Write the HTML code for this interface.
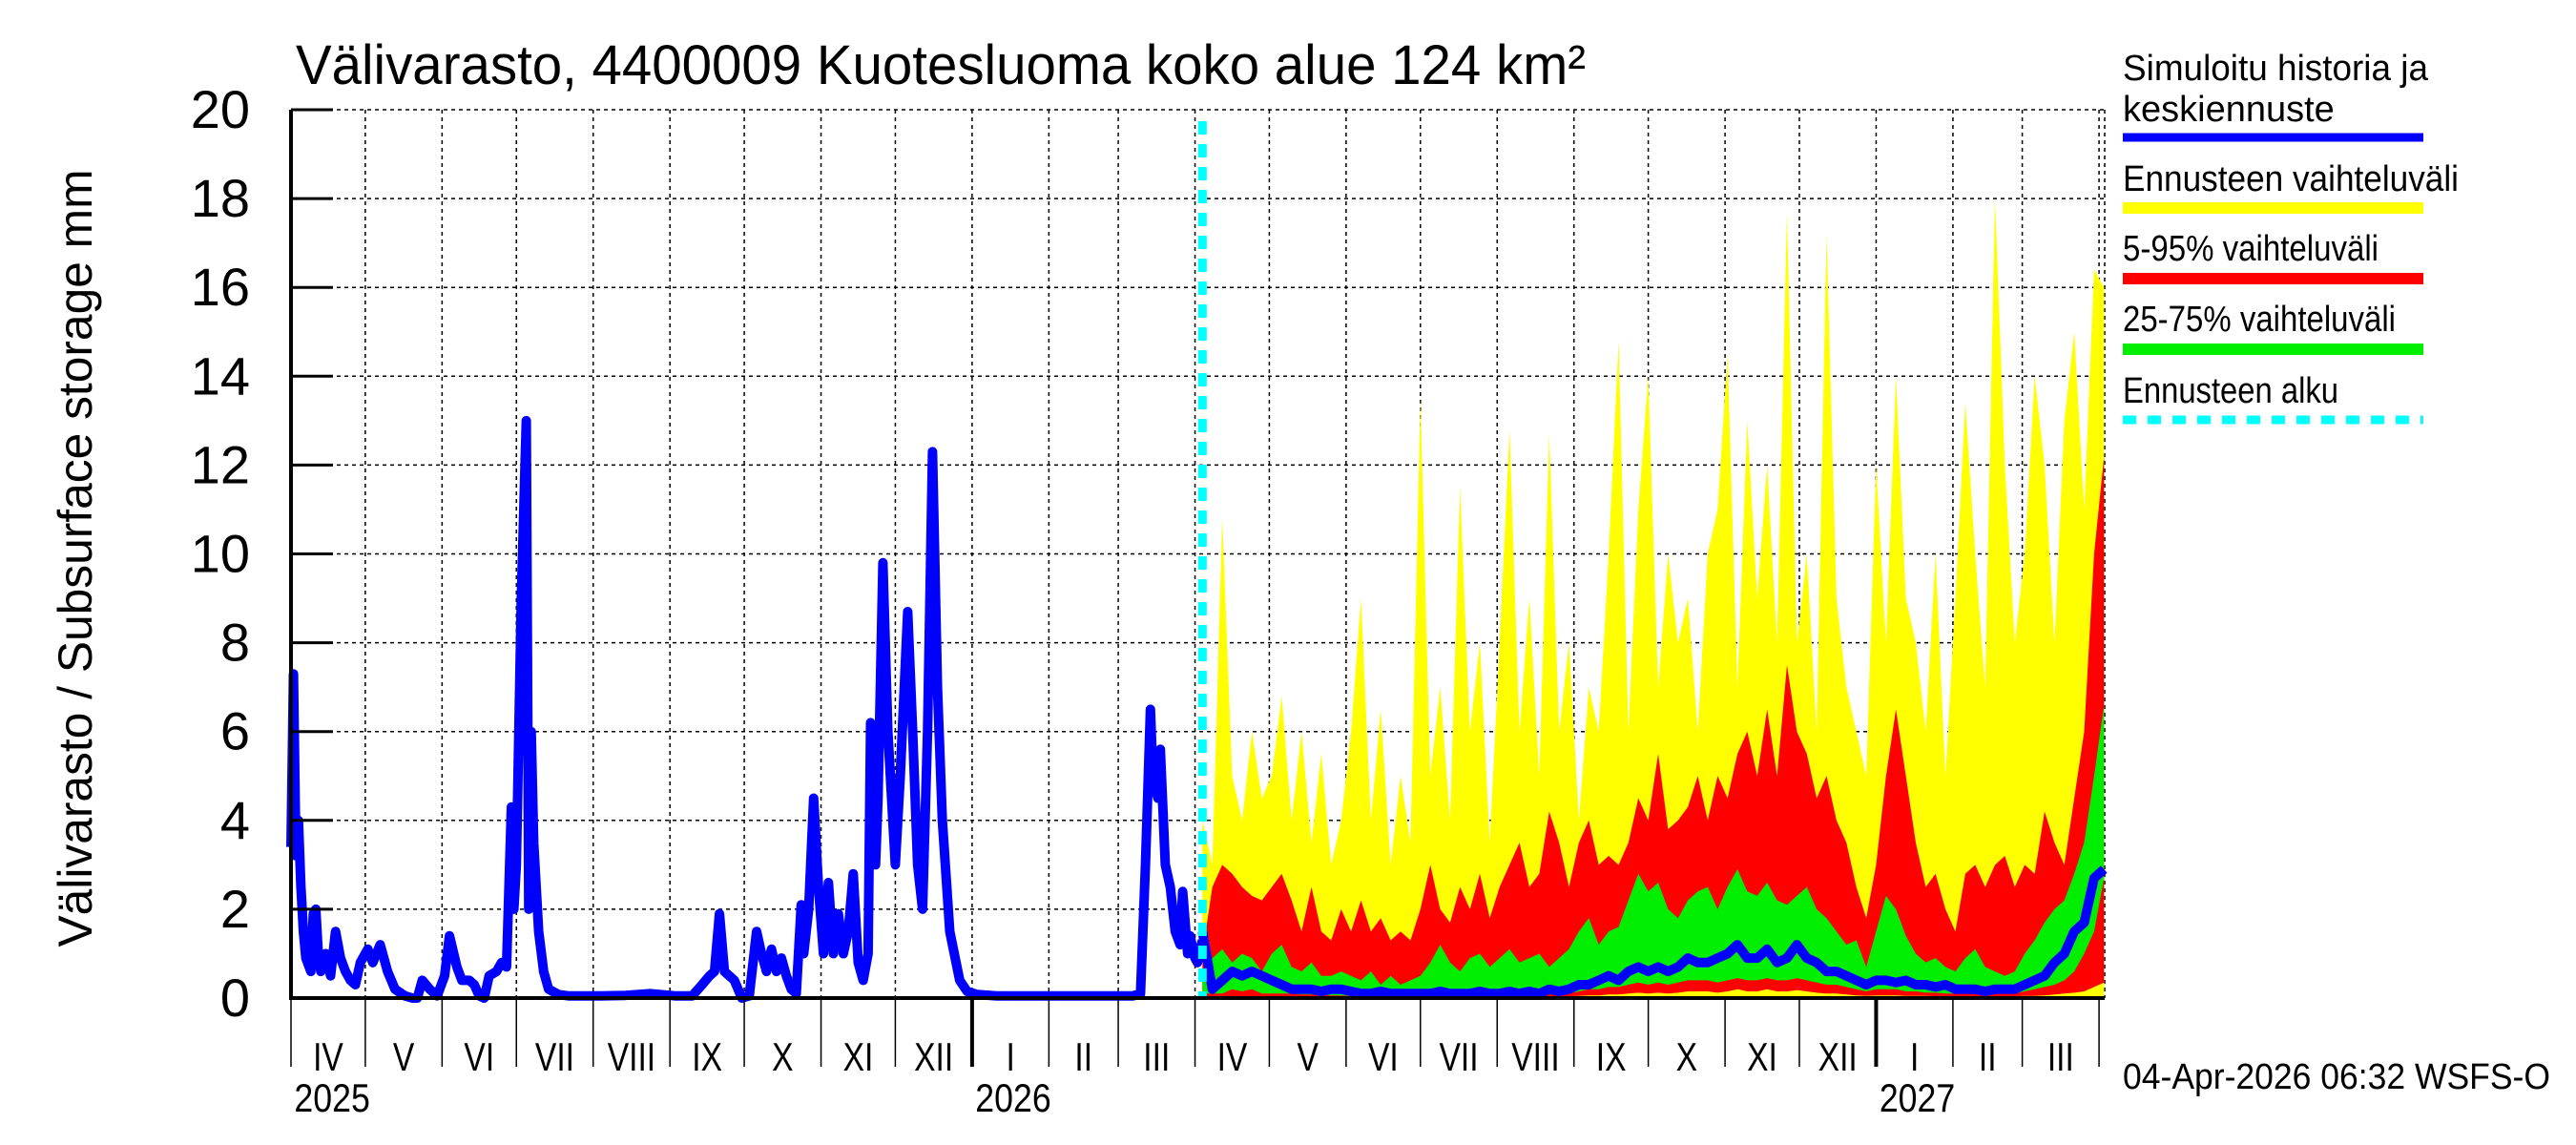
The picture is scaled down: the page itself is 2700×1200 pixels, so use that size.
<!DOCTYPE html>
<html><head><meta charset="utf-8"><style>
html,body{margin:0;padding:0;background:#fff;}
svg{display:block;font-family:"Liberation Sans",sans-serif;}
</style></head><body>
<svg id="chart" width="2700" height="1200" viewBox="0 0 2700 1200" xmlns="http://www.w3.org/2000/svg">
<rect width="2700" height="1200" fill="#fff"/>
<g id="grid"></g>
<g id="bands"></g>
<g id="lines"></g>
<g id="axes"></g>
<text x="310" y="88" font-size="58" textLength="1352" lengthAdjust="spacingAndGlyphs">Välivarasto, 4400009 Kuotesluoma koko alue 124 km²</text>
<text transform="translate(96,585) rotate(-90)" text-anchor="middle" font-size="50" textLength="815" lengthAdjust="spacingAndGlyphs">Välivarasto / Subsurface storage  mm</text>
<g font-size="38">
<text x="2225" y="84" textLength="320" lengthAdjust="spacingAndGlyphs">Simuloitu historia ja</text>
<text x="2225" y="127">keskiennuste</text>
<line x1="2225" y1="144" x2="2540" y2="144" stroke="#0000ff" stroke-width="9"/>
<text x="2225" y="200" textLength="352" lengthAdjust="spacingAndGlyphs">Ennusteen vaihteluväli</text>
<line x1="2225" y1="218" x2="2540" y2="218" stroke="#ffff00" stroke-width="12"/>
<text x="2225" y="273" textLength="268" lengthAdjust="spacingAndGlyphs">5-95% vaihteluväli</text>
<line x1="2225" y1="292" x2="2540" y2="292" stroke="#ff0000" stroke-width="12"/>
<text x="2225" y="347" textLength="286" lengthAdjust="spacingAndGlyphs">25-75% vaihteluväli</text>
<line x1="2225" y1="366" x2="2540" y2="366" stroke="#00ee00" stroke-width="12"/>
<text x="2225" y="422" textLength="226" lengthAdjust="spacingAndGlyphs">Ennusteen alku</text>
<line x1="2225" y1="440" x2="2540" y2="440" stroke="#00ffff" stroke-width="9" stroke-dasharray="14,12"/>
</g>
<text x="2225" y="1141" font-size="38" textLength="448" lengthAdjust="spacingAndGlyphs">04-Apr-2026 06:32 WSFS-O</text>
</svg>
<script>
const yTicks=[0,2,4,6,8,10,12,14,16,18,20];
const monthLabels=["IV","V","VI","VII","VIII","IX","X","XI","XII","I","II","III","IV","V","VI","VII","VIII","IX","X","XI","XII","I","II","III"];
const monthStarts=[0,30,61,91,122,153,183,214,244,275,306,334,365,395,426,456,487,518,548,579,609,640,671,699,730];
const yearLabels=["2025","2026","2027"];
const yearDays=[0,275,640];
const forecastStartDay=368;
const histDays=[0,1,2,3,4,5,6,8,9,10,11,12,14,16,18,20,22,24,26,28,29,31,33,36,39,42,46,49,51,53,56,59,62,64,67,69,72,74,76,78,80,83,85,87,89,90,91,93,95,96,97,98,100,102,104,108,112,115,125,135,145,155,162,166,169,171,173,175,177,179,182,185,188,190,192,194,196,198,200,202,204,206,207,209,211,213,215,217,219,221,223,225,227,229,231,233,234,236,237,239,241,244,246,249,251,253,255,257,259,261,263,266,270,273,277,285,300,320,340,343,345,347,348,350,351,353,355,357,359,360,362,363,365,366,368];
const histVals=[3.4,7.3,3.2,4.0,2.5,1.5,0.9,0.6,1.9,2.0,1.0,0.6,1.0,0.5,1.5,0.9,0.6,0.4,0.3,0.8,0.9,1.1,0.8,1.2,0.6,0.2,0.05,0.0,0.0,0.4,0.2,0.05,0.5,1.4,0.7,0.4,0.4,0.3,0.05,0.0,0.5,0.6,0.8,0.7,4.3,2.0,3.0,9.0,13.0,2.0,6.0,3.5,1.5,0.6,0.2,0.08,0.05,0.05,0.05,0.06,0.1,0.05,0.05,0.3,0.5,0.6,1.9,0.6,0.5,0.4,0.0,0.05,1.5,1.0,0.6,1.1,0.6,0.9,0.5,0.2,0.1,2.1,1.0,2.0,4.5,2.5,1.0,2.6,1.0,1.9,1.0,1.5,2.8,0.8,0.4,1.0,6.2,3.0,4.5,9.8,6.0,3.0,5.0,8.7,6.0,3.0,2.0,6.0,12.3,7.0,4.0,1.5,0.4,0.15,0.08,0.05,0.05,0.05,0.05,0.1,3.0,6.5,5.0,4.5,5.6,3.0,2.5,1.5,1.2,2.4,1.0,1.4,0.9,0.8,1.3,1.5];
const fcStart=368, fcStep=4;
const yellowMax=[4,3,10.8,5,4,6,4.5, 5,6.8,4,6,3.5,5.5,3,4, 6,9,4,6.5,3,5,3.5, 13.5,5,7,4,11.5,6,8,3.5, 8,12.8,6,9,5,12.7,6,8, 4,7,6,10,14.8,6,11, 14,7,10,8,9,6,10,11, 14.5,7,13,9,12,8,17.7, 8,10,6,17.2,9,7,6,5, 12,8,14,9,8,6,10,5, 9,13.4,10,7,18,12,8, 10,14,12,8,13,15,11,16.4, 16];
const redUpper=[1,2.5,3,2.8,2.5,2.3,2.2, 2.5,2.8,2.2,1.5,2.5,1.5,1.3,2, 1.5,2.2,1.5,1.8,1.3,1.5,1.3, 2,3,2,1.7,2.5,2,2.8,1.8, 2.5,3,3.5,2.5,2.8,4.2,3.5,2.5, 3.5,4,3,3.2,3,3.5,4.5, 4,5.5,3.8,4,4.3,5,4,5, 4.5,5.5,6,5,6.5,5,7.5, 6,5.5,4.5,5,4,3.5,2.5,1.8, 3,5,6.5,5,3.5,2.5,2.8,2, 1.5,2.8,3,2.5,3,3.2,2.5, 3,2.8,4.2,3.5,3,4.5,6,10, 12.2];
const greenUpper=[0.5,0.9,1.1,0.8,1,0.9,0.6, 1,1.2,0.7,0.6,0.8,0.5,0.5,0.6, 0.5,0.4,0.6,0.3,0.5,0.3,0.4, 0.5,0.8,1.2,0.8,0.6,0.9,1.0,0.7, 0.9,1.1,0.8,0.9,1.0,0.7,0.9,1.1, 1.5,1.8,1.2,1.5,1.6,2.2,2.8, 2.4,2.6,2.0,1.8,2.2,2.4,2.5,2.0, 2.5,2.9,2.4,2.3,2.6,2.2,2.1, 2.3,2.5,2.0,1.8,1.5,1.2,1.3,0.7, 1.5,2.3,2.0,1.4,1.0,0.8,0.9,0.7, 0.6,0.9,1.1,0.7,0.6,0.5,0.6, 1.0,1.3,1.7,2.0,2.2,2.8,3.5,5, 6.6];
const greenLower=[0.1,0.1,0.1,0.2,0.15,0.2,0.1, 0.1,0.1,0.1,0.08,0.08,0.08,0.06,0.06, 0.05,0.05,0.05,0.04,0.04,0.04,0.04, 0.04,0.05,0.06,0.05,0.05,0.06,0.06,0.05, 0.06,0.08,0.06,0.08,0.08,0.1,0.1,0.1, 0.15,0.2,0.2,0.25,0.25,0.3,0.35, 0.3,0.35,0.3,0.35,0.4,0.4,0.4,0.35, 0.4,0.45,0.4,0.4,0.45,0.4,0.4, 0.45,0.4,0.35,0.3,0.3,0.25,0.2,0.15, 0.2,0.2,0.2,0.15,0.15,0.12,0.12,0.1, 0.1,0.1,0.1,0.1,0.1,0.1,0.1, 0.15,0.2,0.25,0.3,0.4,0.6,1.0,1.5, 2.7];
const redLower=[0.02,0.02,0.02,0.02,0.02,0.02,0.02, 0.02,0.02,0.02,0.02,0.02,0.02,0.02,0.02, 0.02,0.02,0.02,0.02,0.02,0.02,0.02, 0.02,0.02,0.02,0.02,0.02,0.02,0.02,0.02, 0.02,0.02,0.02,0.02,0.03,0.04,0.04,0.04, 0.05,0.06,0.06,0.08,0.08,0.1,0.12, 0.1,0.12,0.1,0.12,0.15,0.15,0.15,0.12, 0.15,0.2,0.15,0.15,0.2,0.15,0.15, 0.18,0.15,0.12,0.1,0.1,0.08,0.06,0.05, 0.06,0.06,0.06,0.05,0.05,0.05,0.04,0.04, 0.04,0.04,0.04,0.04,0.04,0.04,0.04, 0.05,0.05,0.06,0.08,0.1,0.12,0.15,0.25, 0.35];
const median=[1.5,0.2,0.4,0.6,0.5,0.6,0.5, 0.4,0.3,0.2,0.2,0.2,0.15,0.2,0.2, 0.15,0.1,0.1,0.15,0.1,0.1,0.1, 0.1,0.1,0.15,0.1,0.1,0.1,0.15,0.1, 0.1,0.15,0.1,0.15,0.1,0.2,0.15,0.2, 0.3,0.3,0.4,0.5,0.4,0.6,0.7, 0.6,0.7,0.6,0.7,0.9,0.8,0.8,0.9, 1.0,1.2,0.9,0.9,1.1,0.8,0.9, 1.2,0.9,0.8,0.6,0.6,0.5,0.4,0.3, 0.4,0.4,0.35,0.4,0.3,0.3,0.25,0.3, 0.2,0.2,0.2,0.15,0.2,0.2,0.2, 0.3,0.4,0.5,0.8,1.0,1.5,1.7,2.7, 2.9];

const NS="http://www.w3.org/2000/svg";
const X0=305, XPD=2.596, Y0=1046, YPU=46.55, XEND=2206, YTOP=Y0-20*YPU;
function xs(d){return X0+d*XPD;}
function ys(v){return Y0-v*YPU;}
function mk(tag,attrs,parent){const e=document.createElementNS(NS,tag);for(const k in attrs)e.setAttribute(k,attrs[k]);parent.appendChild(e);return e;}
const grid=document.getElementById('grid'),bands=document.getElementById('bands'),lines=document.getElementById('lines'),axes=document.getElementById('axes');

yTicks.forEach(v=>{
  if(v>0){const g=mk('line',{x1:X0,y1:ys(v),x2:XEND,y2:ys(v),stroke:'#000','stroke-width':1.5,'stroke-dasharray':'4,4'},grid);
  
  }
  const t=mk('line',{x1:X0,y1:ys(v),x2:X0+44,y2:ys(v),stroke:'#000','stroke-width':3},axes);
  
  
  const l=mk('text',{x:262,y:ys(v)+19,'text-anchor':'end','font-size':56},axes);
  l.textContent=v;
  
  
});
monthStarts.forEach((d,i)=>{
  const isYear=yearDays.includes(d)&&d>0;
  if(d>0){const g=mk('line',{x1:xs(d),y1:YTOP,x2:xs(d),y2:Y0,stroke:'#000','stroke-width':1.5,'stroke-dasharray':'4,4'},grid);
  
  }
  const t=mk('line',{x1:xs(d),y1:Y0,x2:xs(d),y2:1118,stroke:'#000','stroke-width':isYear?4:1.5},axes);
  
  
  if(i<monthLabels.length){
    const mid=(d+monthStarts[i+1])/2;
    const l=mk('text',{x:xs(mid),y:1122,'text-anchor':'middle','font-size':42,transform:`translate(${xs(mid)},0) scale(0.8,1) translate(${-xs(mid)},0)`},axes);
    l.textContent=monthLabels[i];
    
    
  }
});
yearLabels.forEach((y,i)=>{
  const l=mk('text',{x:xs(yearDays[i])+4,y:1165,'font-size':42,transform:`translate(${xs(yearDays[i])},0) scale(0.85,1) translate(${-xs(yearDays[i])},0)`},axes);
  l.textContent=y;
  
  
});
const rb=mk('line',{x1:XEND,y1:YTOP,x2:XEND,y2:Y0,stroke:'#000','stroke-width':1.5,'stroke-dasharray':'4,4'},grid);



function band(upper,lower,color,name){
  let p='';
  upper.forEach((v,i)=>{p+=(i?'L':'M')+xs(fcStart+i*fcStep).toFixed(1)+','+ys(v).toFixed(1);});
  for(let i=lower.length-1;i>=0;i--){p+='L'+xs(fcStart+i*fcStep).toFixed(1)+','+ys(lower[i]).toFixed(1);}
  const e=mk('path',{d:p+'Z',fill:color,stroke:'none'},bands);
  
  
}
const zeros=yellowMax.map(()=>0);
band(yellowMax,zeros,'#ffff00','band-forecast-range');
band(redUpper,redLower,'#ff0000','band-5-95');
band(greenUpper,greenLower,'#00ee00','band-25-75');

let hp='';histDays.forEach((d,i)=>{hp+=(i?'L':'M')+xs(d).toFixed(1)+','+ys(histVals[i]).toFixed(1);});
const h=mk('path',{d:hp,fill:'none',stroke:'#0000ff','stroke-width':10,'stroke-linejoin':'round'},lines);


let mp='';median.forEach((v,i)=>{mp+=(i?'L':'M')+xs(fcStart+i*fcStep).toFixed(1)+','+ys(v).toFixed(1);});
const m=mk('path',{d:mp,fill:'none',stroke:'#0000ff','stroke-width':10,'stroke-linejoin':'round'},lines);


const fs=mk('line',{x1:xs(forecastStartDay),y1:YTOP+12,x2:xs(forecastStartDay),y2:Y0,stroke:'#00ffff','stroke-width':9,'stroke-dasharray':'14,10'},lines);



const ax=mk('path',{d:`M${X0},${YTOP}L${X0},${Y0}L${XEND},${Y0}`,fill:'none',stroke:'#000','stroke-width':4},axes);


</script>
</body></html>
